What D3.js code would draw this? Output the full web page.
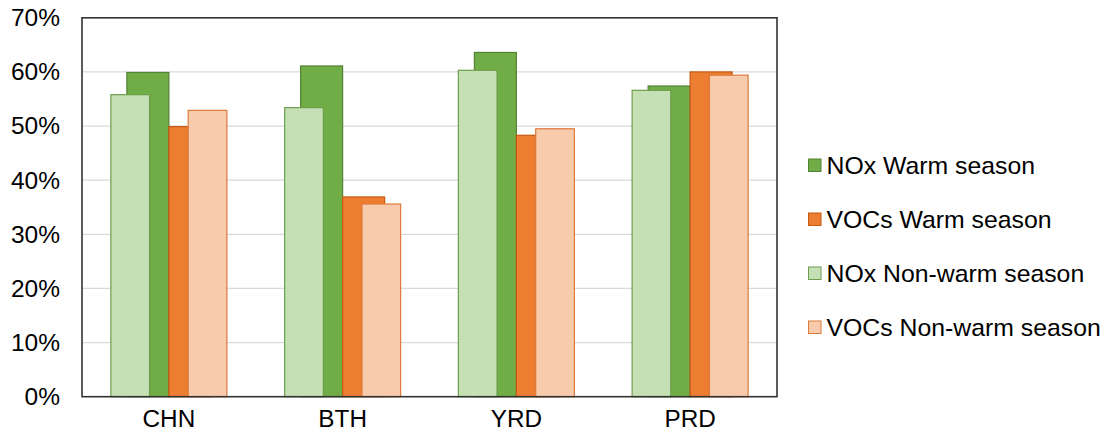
<!DOCTYPE html>
<html>
<head>
<meta charset="utf-8">
<script src="https://cdn.jsdelivr.net/npm/d3@7"></script>
<style>
  html, body { margin: 0; padding: 0; background: #fff; }
  svg text { font-family: "Liberation Sans", Arial, sans-serif; fill: #000; }
</style>
</head>
<body>
<svg id="chart" width="1110" height="438"></svg>
<script>
// Regions and shares (%) of NOx / VOCs by season
const categories = ["CHN", "BTH", "YRD", "PRD"];
const noxWarm = [59.9, 61.1, 63.6, 57.4];
const vocsWarm = [49.9, 36.9, 48.3, 60.0];
const noxNonWarm = [55.8, 53.4, 60.3, 56.6];
const vocsNonWarm = [52.9, 35.6, 49.5, 59.4];
const yTicks = [0, 10, 20, 30, 40, 50, 60, 70];
const legendLabels = ["NOx Warm season", "VOCs Warm season", "NOx Non-warm season", "VOCs Non-warm season"];

const svg = d3.select("#chart");
const plot = { left: 82, right: 777, top: 17.8, bottom: 396.7 };

const x = d3.scaleBand().domain(categories).range([plot.left, plot.right]);
const y = d3.scaleLinear().domain([0, 70]).range([plot.bottom, plot.top]);
const B = x.bandwidth();

// warm-season bars sit side by side in the middle of each band
const xWarm = d3.scaleBand().domain(["nox", "vocs"])
  .range([B / 2 - 42, B / 2 + 42]);
// non-warm bars are narrower, spread wider and drawn in front
const xNon = d3.scaleBand().domain(["nox", "mid", "vocs"])
  .range([B / 2 - 58, B / 2 + 58]);

// gridlines
svg.append("g").selectAll("line")
  .data(yTicks.filter(t => t > 0 && t < 70))
  .join("line")
  .attr("x1", plot.left).attr("x2", plot.right)
  .attr("y1", d => y(d)).attr("y2", d => y(d))
  .attr("stroke", "#d9d9d9").attr("stroke-width", 1.2);

const series = [
  { vals: noxWarm, sx: xWarm, key: "nox", fill: "#70ad47", stroke: "#548235" },
  { vals: vocsWarm, sx: xWarm, key: "vocs", fill: "#ed7d31", stroke: "#c55a11" },
  { vals: noxNonWarm, sx: xNon, key: "nox", fill: "#c5e0b4", stroke: "#6e9e4c" },
  { vals: vocsNonWarm, sx: xNon, key: "vocs", fill: "#f8cbad", stroke: "#dc7a3a" }
];

series.forEach(s => {
  svg.append("g").selectAll("rect")
    .data(categories.map((c, i) => ({ c, v: s.vals[i] })))
    .join("rect")
    .attr("x", d => x(d.c) + s.sx(s.key))
    .attr("width", s.sx.bandwidth())
    .attr("y", d => y(d.v))
    .attr("height", d => y(0) - y(d.v))
    .attr("fill", s.fill)
    .attr("stroke", s.stroke)
    .attr("stroke-width", 1.2);
});

// plot frame
svg.append("rect")
  .attr("x", plot.left).attr("y", plot.top)
  .attr("width", plot.right - plot.left).attr("height", plot.bottom - plot.top)
  .attr("fill", "none").attr("stroke", "#333").attr("stroke-width", 1.6);

// y axis labels
const yAxis = d3.axisLeft(y).tickValues(yTicks).tickFormat(d => d + "%").tickSize(0).tickPadding(22);
const gy = svg.append("g").attr("transform", `translate(${plot.left},0)`).call(yAxis);
gy.select(".domain").remove();
gy.selectAll("text").attr("font-size", 24.5).attr("font-family", "Liberation Sans, Arial, sans-serif").attr("fill", "#000");

// x axis labels
const xAxis = d3.axisBottom(x).tickSize(0).tickPadding(13);
const gx = svg.append("g").attr("transform", `translate(0,${plot.bottom})`).call(xAxis);
gx.select(".domain").remove();
gx.selectAll("text").attr("font-size", 24.3).attr("font-family", "Liberation Sans, Arial, sans-serif").attr("fill", "#000");

// legend
const legend = svg.append("g").attr("transform", "translate(808,0)");
const legendY = d3.scalePoint().domain(legendLabels).range([165.5, 327.5]);
legendLabels.forEach((lab, i) => {
  const s = series[i];
  const cy = legendY(lab);
  legend.append("rect")
    .attr("x", 0.5).attr("y", cy - 6.5).attr("width", 12.5).attr("height", 12.5)
    .attr("fill", s.fill).attr("stroke", s.stroke).attr("stroke-width", 1);
  legend.append("text")
    .attr("x", 18.5).attr("y", cy).attr("dy", "0.35em")
    .attr("font-size", 24.8).text(lab);
});
</script>
</body>
</html>
